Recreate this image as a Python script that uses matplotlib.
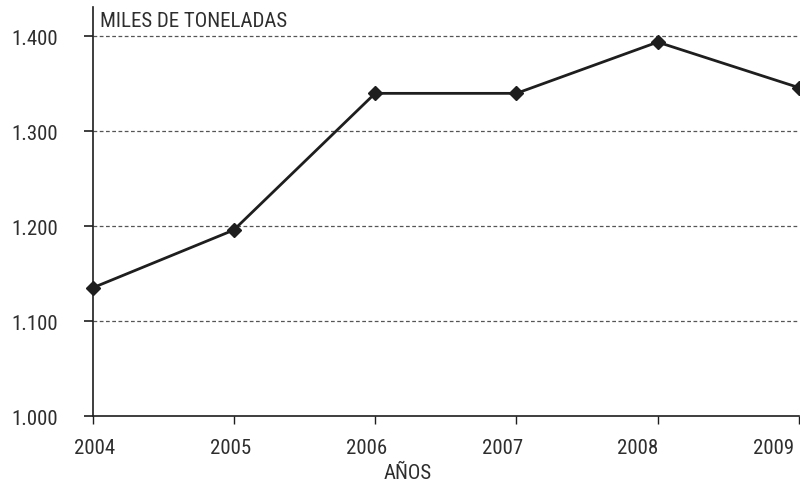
import matplotlib
matplotlib.use("Agg")
import matplotlib.pyplot as plt
from matplotlib.ticker import FuncFormatter
from matplotlib.transforms import ScaledTranslation

years = [2004, 2005, 2006, 2007, 2008, 2009]
values = [1135, 1196, 1340, 1340, 1394, 1346]
yticks = [1000, 1100, 1200, 1300, 1400]

plt.rcParams['font.family'] = ['Roboto Condensed', 'DejaVu Sans']
txt = '#2e2e2e'
fs = 15

fig = plt.figure(figsize=(8, 4.85), dpi=100)
ax = fig.add_axes([92.5 / 800, 1 - 417 / 485, (799 - 92.5) / 800, (417 - 8) / 485])

ax.plot(years, values, color='#1e1e1e', lw=2, marker='D', ms=7,
        markerfacecolor='#1e1e1e', markeredgecolor='#1e1e1e', clip_on=False, zorder=3)

ax.set_xlim(2004, 2009)
ax.set_ylim(1000, 1431)
ax.set_xticks(years)
ax.set_yticks(yticks)
ax.yaxis.set_major_formatter(FuncFormatter(lambda v, p: f"{int(v):,}".replace(',', '.')))

for y in yticks[1:]:
    ax.axhline(y, color='#555555', lw=0.9, ls=(0, (3, 2)), zorder=1)

for s in ['top', 'right']:
    ax.spines[s].set_visible(False)
for s in ['left', 'bottom']:
    ax.spines[s].set_color('#1e1e1e')
    ax.spines[s].set_linewidth(1.2)

ax.tick_params(axis='y', direction='out', length=6.5, width=1.2, color='#1e1e1e',
               labelsize=fs, labelcolor=txt, pad=18)
ax.tick_params(axis='x', direction='out', length=6, width=1.0, color='#1e1e1e',
               labelsize=fs, labelcolor=txt, pad=10)

# year labels in the original sit a little left of their ticks, more so to the right
for i, lab in enumerate(ax.get_xticklabels()):
    dx = (2.5 - 5.55 * i) / 100
    lab.set_transform(lab.get_transform() + ScaledTranslation(dx, 0, fig.dpi_scale_trans))
for lab in ax.get_yticklabels():
    lab.set_verticalalignment('center')
    lab.set_transform(lab.get_transform() + ScaledTranslation(0, -0.025, fig.dpi_scale_trans))

ax.text(0.011, 0.99, 'MILES DE TONELADAS', transform=ax.transAxes, ha='left', va='top',
        fontsize=fs, color=txt)
fig.text(408 / 800, 1.5 / 485, 'AÑOS', ha='center', va='bottom', fontsize=fs, color=txt)

fig.savefig('out.png', dpi=100)
